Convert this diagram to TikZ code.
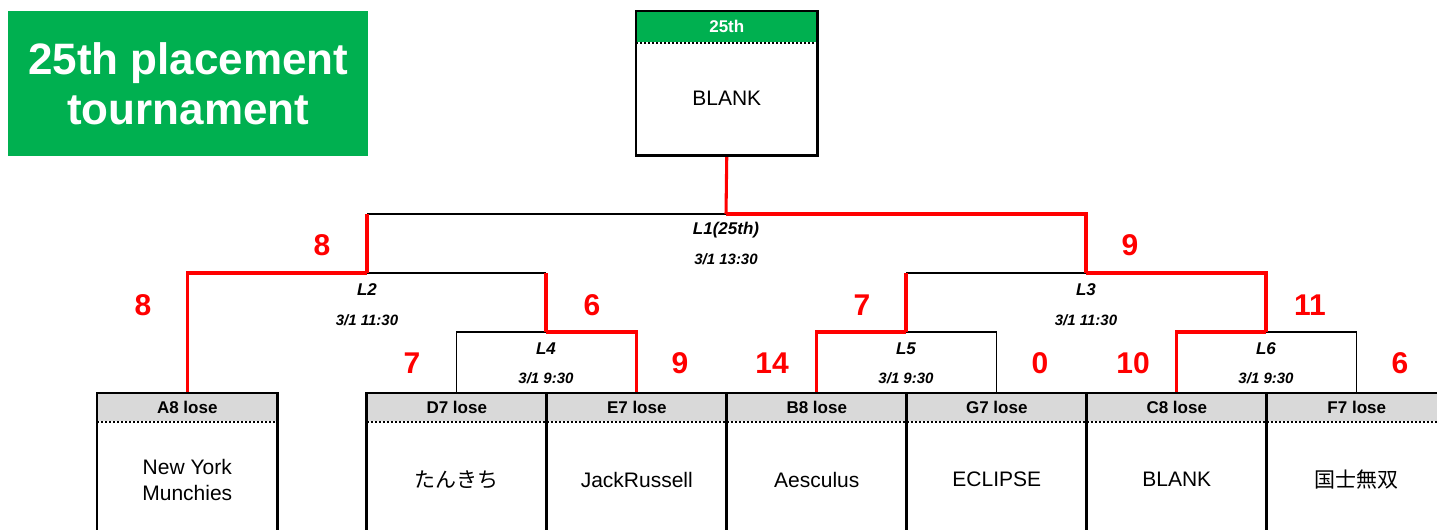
\documentclass[tikz,border=0pt]{standalone}
\usepackage{fontspec}
\setmainfont{Liberation Sans}
\newfontfamily\jpfont{Noto Sans CJK JP}
\definecolor{tgreen}{RGB}{0,176,80}
\definecolor{hgray}{RGB}{217,217,217}
\definecolor{tred}{RGB}{255,0,0}
\begin{document}
\begin{tikzpicture}[x=0.75pt,y=-0.75pt,
  boxline/.style={line width=1.8pt, black},
  lose/.style={line width=0.8pt, black},
  win/.style={line width=2.3pt, tred},
  hdr/.style={fill=hgray, minimum width=135pt, minimum height=21pt, inner sep=0pt, anchor=north west, font=\bfseries\fontsize{12.75}{14}\selectfont},
  body/.style={minimum width=135pt, minimum height=87.75pt, inner sep=0pt, anchor=north west, align=center, font=\fontsize{15.75}{19.5}\selectfont},
  score/.style={text=tred, font=\bfseries\fontsize{22.5}{24}\selectfont, inner sep=0pt},
  mlabel/.style={font=\bfseries\itshape\fontsize{12.75}{14}\selectfont, inner sep=0pt},
  mtime/.style={font=\bfseries\itshape\fontsize{11.25}{13}\selectfont, inner sep=0pt},
  dotsep/.style={line width=1.5pt, dash pattern=on 1.5pt off 1.5pt, black}
]
\useasboundingbox (0,0) rectangle (1437,530);
\clip (0,0) rectangle (1437,530);

% title
\node[anchor=north west, fill=tgreen, minimum width=270pt, minimum height=108.75pt, inner sep=0pt, text=white, align=center, font=\bfseries\fontsize{33}{37.5}\selectfont] (title) at (8,11) {25th placement\\tournament};

% final box
\node[anchor=north west, fill=tgreen, minimum width=135.75pt, minimum height=23.25pt, inner sep=0pt, text=white, font=\bfseries\fontsize{12.75}{14}\selectfont] (fh) at (636,11) {25th};
\node[anchor=north west, minimum width=135.75pt, minimum height=84.75pt, inner sep=0pt, font=\fontsize{15.75}{19.5}\selectfont] (fb) at (636,42) {BLANK};

% leaf boxes
\node[hdr] (hA) at (97,393) {A8 lose};
\node[body] (bA) at (97,421) {New York\\Munchies};
\node[hdr] (hD) at (366.5,393) {D7 lose};
\node[body] (bD) at (366.5,421) {\jpfont たんきち};
\node[hdr] (hE) at (546.5,393) {E7 lose};
\node[body] (bE) at (546.5,421) {JackRussell};
\node[hdr] (hB) at (726.5,393) {B8 lose};
\node[body] (bB) at (726.5,421) {Aesculus};
\node[hdr] (hG) at (906.5,393) {G7 lose};
\node[body] (bG) at (906.5,421) {ECLIPSE};
\node[hdr] (hC) at (1086.5,393) {C8 lose};
\node[body] (bC) at (1086.5,421) {BLANK};
\node[hdr] (hF) at (1266.5,393) {F7 lose};
\node[body] (bF) at (1266.5,421) {\jpfont 国士無双};

% junctions
\coordinate (L1) at (726,214);
\coordinate (L2) at (367,273);
\coordinate (L3) at (1086,273);
\coordinate (L4) at (546,332);
\coordinate (L5) at (906,332);
\coordinate (L6) at (1266,332);

% losing branches (thin black)
\draw[lose] (hD.north) |- (L4);
\draw[lose] (L2) -- (L2 -| L4);
\draw[lose] (L2 |- L1) -- (L1);
\draw[lose] (hG.north) |- (L5);
\draw[lose] (L5 |- L3) -- (L3);
\draw[lose] (hF.north) |- (L6);

% winning branches (red)
\draw[win] (hE.north) |- (L4);
\draw[win] (L2 -| L4) -- (L4);
\draw[win] (hA.north) |- (L2);
\draw[win] (L2) -- (L2 |- L1);
\draw[win] (hB.north) |- (L5);
\draw[win] (L5) -- (L5 |- L3);
\draw[win] (hC.north) |- (L6);
\draw[win] (L6) |- (L3);
\draw[win] (L3) |- (L1);
\draw[win] (L1) -- (fb.south);

% borders
\draw[boxline] (fh.north west) rectangle (fb.south east);
\draw[dotsep] (fh.south west) -- (fh.south east);
\draw[boxline] (hA.north west) rectangle (bA.south east);
\draw[dotsep] (hA.south west) -- (hA.south east);
\draw[boxline] (hD.north west) rectangle (bF.south east);
\draw[dotsep] (hD.south west) -- (hF.south east);
\foreach \c in {E,B,G,C,F} {\draw[boxline] (h\c.north west) -- (b\c.south west);}

% match labels
\node[mlabel] (nL1) at (726,230) {L1(25th)};
\node[mtime] (tL1) at (726,259) {3/1 13:30};
\node[mlabel] (nL2) at (367,290) {L2};
\node[mtime] (tL2) at (367,320) {3/1 11:30};
\node[mlabel] (nL3) at (1086,290) {L3};
\node[mtime] (tL3) at (1086,320) {3/1 11:30};
\node[mlabel] (nL4) at (546,349) {L4};
\node[mtime] (tL4) at (546,378) {3/1 9:30};
\node[mlabel] (nL5) at (906,349) {L5};
\node[mtime] (tL5) at (906,378) {3/1 9:30};
\node[mlabel] (nL6) at (1266,349) {L6};
\node[mtime] (tL6) at (1266,378) {3/1 9:30};

% scores
\node[score] (s1) at (322,245) {8};
\node[score] (s2) at (1130,245) {9};
\node[score] (s3) at (143,305) {8};
\node[score] (s4) at (592,305) {6};
\node[score] (s5) at (862,305) {7};
\node[score] (s6) at (1310,305) {11};
\node[score] (s7) at (412,363) {7};
\node[score] (s8) at (680,363) {9};
\node[score] (s9) at (772,363) {14};
\node[score] (s10) at (1040,363) {0};
\node[score] (s11) at (1133,363) {10};
\node[score] (s12) at (1400,363) {6};
\end{tikzpicture}
\end{document}
